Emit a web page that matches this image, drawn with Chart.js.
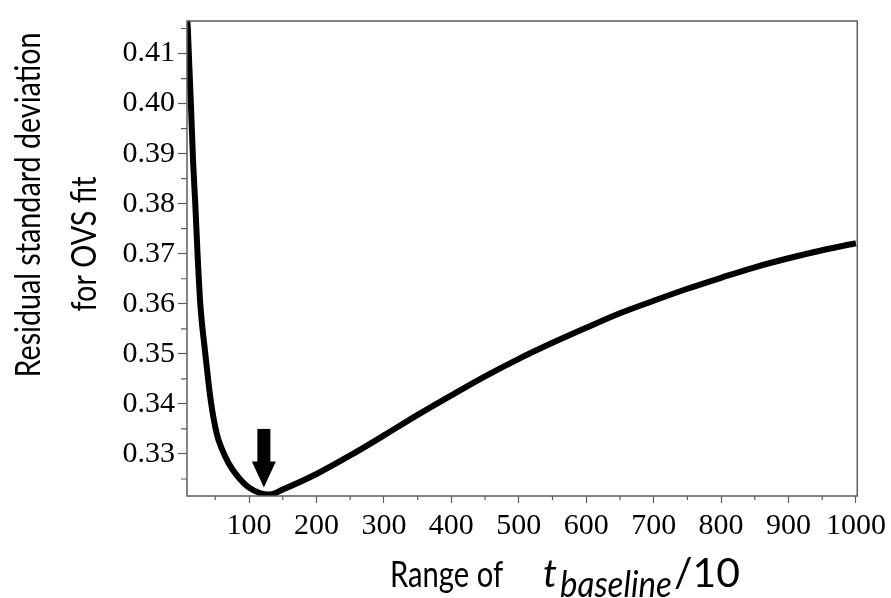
<!DOCTYPE html>
<html>
<head>
<meta charset="utf-8">
<script src="https://cdn.jsdelivr.net/npm/chart.js@4/dist/chart.umd.min.js"></script>
<style>
  html, body { margin: 0; padding: 0; background: #fff; }
  #wrap { width: 891px; height: 598px; }
</style>
</head>
<body>
<div id="wrap"><canvas id="chart"></canvas></div>
<script>
// range of t_baseline / 10 (x) and residual SD of the OVS fit (y)
const rangeValues = [8, 9, 11, 14, 17, 20.4, 23.7, 27.7, 35, 43.5, 52.4, 59.7, 69.5, 82, 98.5, 116, 131, 150,
  200, 250, 300, 350, 400, 450, 500, 550, 600, 650, 700, 750, 800, 850, 900, 950, 1000];
const residualSd = [0.4172, 0.4155, 0.4090, 0.3992, 0.3885, 0.3796, 0.3698, 0.3600, 0.3502, 0.3404, 0.3339,
  0.3310, 0.3282, 0.3257, 0.3234, 0.3222, 0.3219, 0.3229,
  0.3260, 0.3297, 0.3337, 0.3378, 0.3417, 0.3455, 0.3490, 0.3522, 0.3552, 0.3581, 0.3606, 0.3630, 0.3652,
  0.3673, 0.3691, 0.3707, 0.3721];

const xTicks = [100, 200, 300, 400, 500, 600, 700, 800, 900, 1000];
const yTicks = [0.33, 0.34, 0.35, 0.36, 0.37, 0.38, 0.39, 0.40, 0.41];
const xRange = [8, 1002];
const yRange = [0.3216, 0.4165];

// the arrow pointing at the minimum: x, shaft top, head start, tip
const arrowX = 122;
const arrowYs = [0.3350, 0.3285, 0.3233];

const yTitleLines = ['Residual standard deviation', 'for OVS fit'];
const xTitleParts = ['Range of', 't', 'baseline', '/10'];

function fitFont(ctx, text, width, style) {
  ctx.font = style + ' 100px Lato';
  const size = 100 * width / ctx.measureText(text).width;
  ctx.font = style + ' ' + size.toFixed(1) + 'px Lato';
}

const framePlugin = {
  id: 'frame',
  afterDraw(chart) {
    const { ctx, chartArea: a, scales: { x, y } } = chart;
    ctx.save();
    ctx.strokeStyle = '#5c5c5c';
    ctx.lineWidth = 1.5;
    ctx.strokeRect(a.left, a.top, a.right - a.left, a.bottom - a.top);

    // minor ticks halfway between the major ones
    ctx.lineWidth = 1.2;
    ctx.beginPath();
    for (let v = 50; v < 1000; v += 100) {
      const px = x.getPixelForValue(v);
      ctx.moveTo(px, a.bottom);
      ctx.lineTo(px, a.bottom + 4);
    }
    for (let v = 0.325; v < yRange[1]; v += 0.01) {
      const py = y.getPixelForValue(v);
      ctx.moveTo(a.left - 6, py);
      ctx.lineTo(a.left, py);
    }
    ctx.stroke();

    // arrow
    const ax = x.getPixelForValue(arrowX);
    const [top, headTop, tip] = arrowYs.map(v => y.getPixelForValue(v));
    ctx.fillStyle = '#000';
    ctx.fillRect(ax - 6.5, top, 13, headTop - top + 1);
    ctx.beginPath();
    ctx.moveTo(ax - 12, headTop);
    ctx.lineTo(ax + 12, headTop);
    ctx.lineTo(ax, tip);
    ctx.closePath();
    ctx.fill();

    // y title, two rotated lines
    ctx.fillStyle = '#000';
    ctx.textAlign = 'center';
    ctx.textBaseline = 'alphabetic';
    const yLines = [[40, 205, 345], [96, 244, 135]];
    yTitleLines.forEach((t, i) => {
      const [bx, cy, w] = yLines[i];
      ctx.save();
      ctx.translate(bx, cy);
      ctx.rotate(-Math.PI / 2);
      fitFont(ctx, t, w, 'normal');
      ctx.scale(1, 1.2);
      ctx.fillText(t, 0, 0);
      ctx.restore();
    });

    // x title with italic subscript
    ctx.textAlign = 'left';
    const xParts = [[390, 587, 113, 'normal', 1.25], [543, 587, 14, 'italic', 1], [560, 597, 112, 'italic', 1.1], [674, 587, 66, 'normal', 1]];
    xTitleParts.forEach((t, i) => {
      const [px, py, w, style, sy] = xParts[i];
      ctx.save();
      ctx.translate(px, py);
      fitFont(ctx, t, w, style);
      ctx.scale(1, sy);
      ctx.fillText(t, 0, 0);
      ctx.restore();
    });
    ctx.restore();
  }
};

new Chart(document.getElementById('chart'), {
  type: 'line',
  data: {
    datasets: [{
      data: rangeValues.map((v, i) => ({ x: v, y: residualSd[i] })),
      borderColor: '#000',
      borderWidth: 6,
      pointRadius: 0,
      cubicInterpolationMode: 'monotone',
      fill: false
    }]
  },
  options: {
    responsive: true,
    maintainAspectRatio: false,
    animation: false,
    layout: { padding: { top: 12, right: 30, left: 0, bottom: 0 } },
    plugins: { legend: { display: false }, tooltip: { enabled: false } },
    scales: {
      x: {
        type: 'linear',
        min: xRange[0],
        max: xRange[1],
        afterBuildTicks: s => { s.ticks = xTicks.map(v => ({ value: v })); },
        afterFit: s => { s.height = 102; },
        border: { display: false },
        grid: { drawOnChartArea: false, drawTicks: true, tickLength: 7, tickColor: '#5c5c5c', tickWidth: 1.2 },
        ticks: {
          autoSkip: false,
          maxRotation: 0,
          padding: 5,
          color: '#000',
          font: { family: 'Liberation Serif', size: 30 },
          callback: v => String(v)
        }
      },
      y: {
        type: 'linear',
        min: yRange[0],
        max: yRange[1],
        afterBuildTicks: s => { s.ticks = yTicks.map(v => ({ value: v })); },
        afterFit: s => { s.width = 187; },
        border: { display: false },
        grid: { drawOnChartArea: false, drawTicks: true, tickLength: 9, tickColor: '#5c5c5c', tickWidth: 1.2 },
        ticks: {
          autoSkip: false,
          padding: 3,
          color: '#000',
          font: { family: 'Liberation Serif', size: 30 },
          callback: v => v.toFixed(2)
        }
      }
    }
  },
  plugins: [framePlugin]
});
</script>
</body>
</html>
